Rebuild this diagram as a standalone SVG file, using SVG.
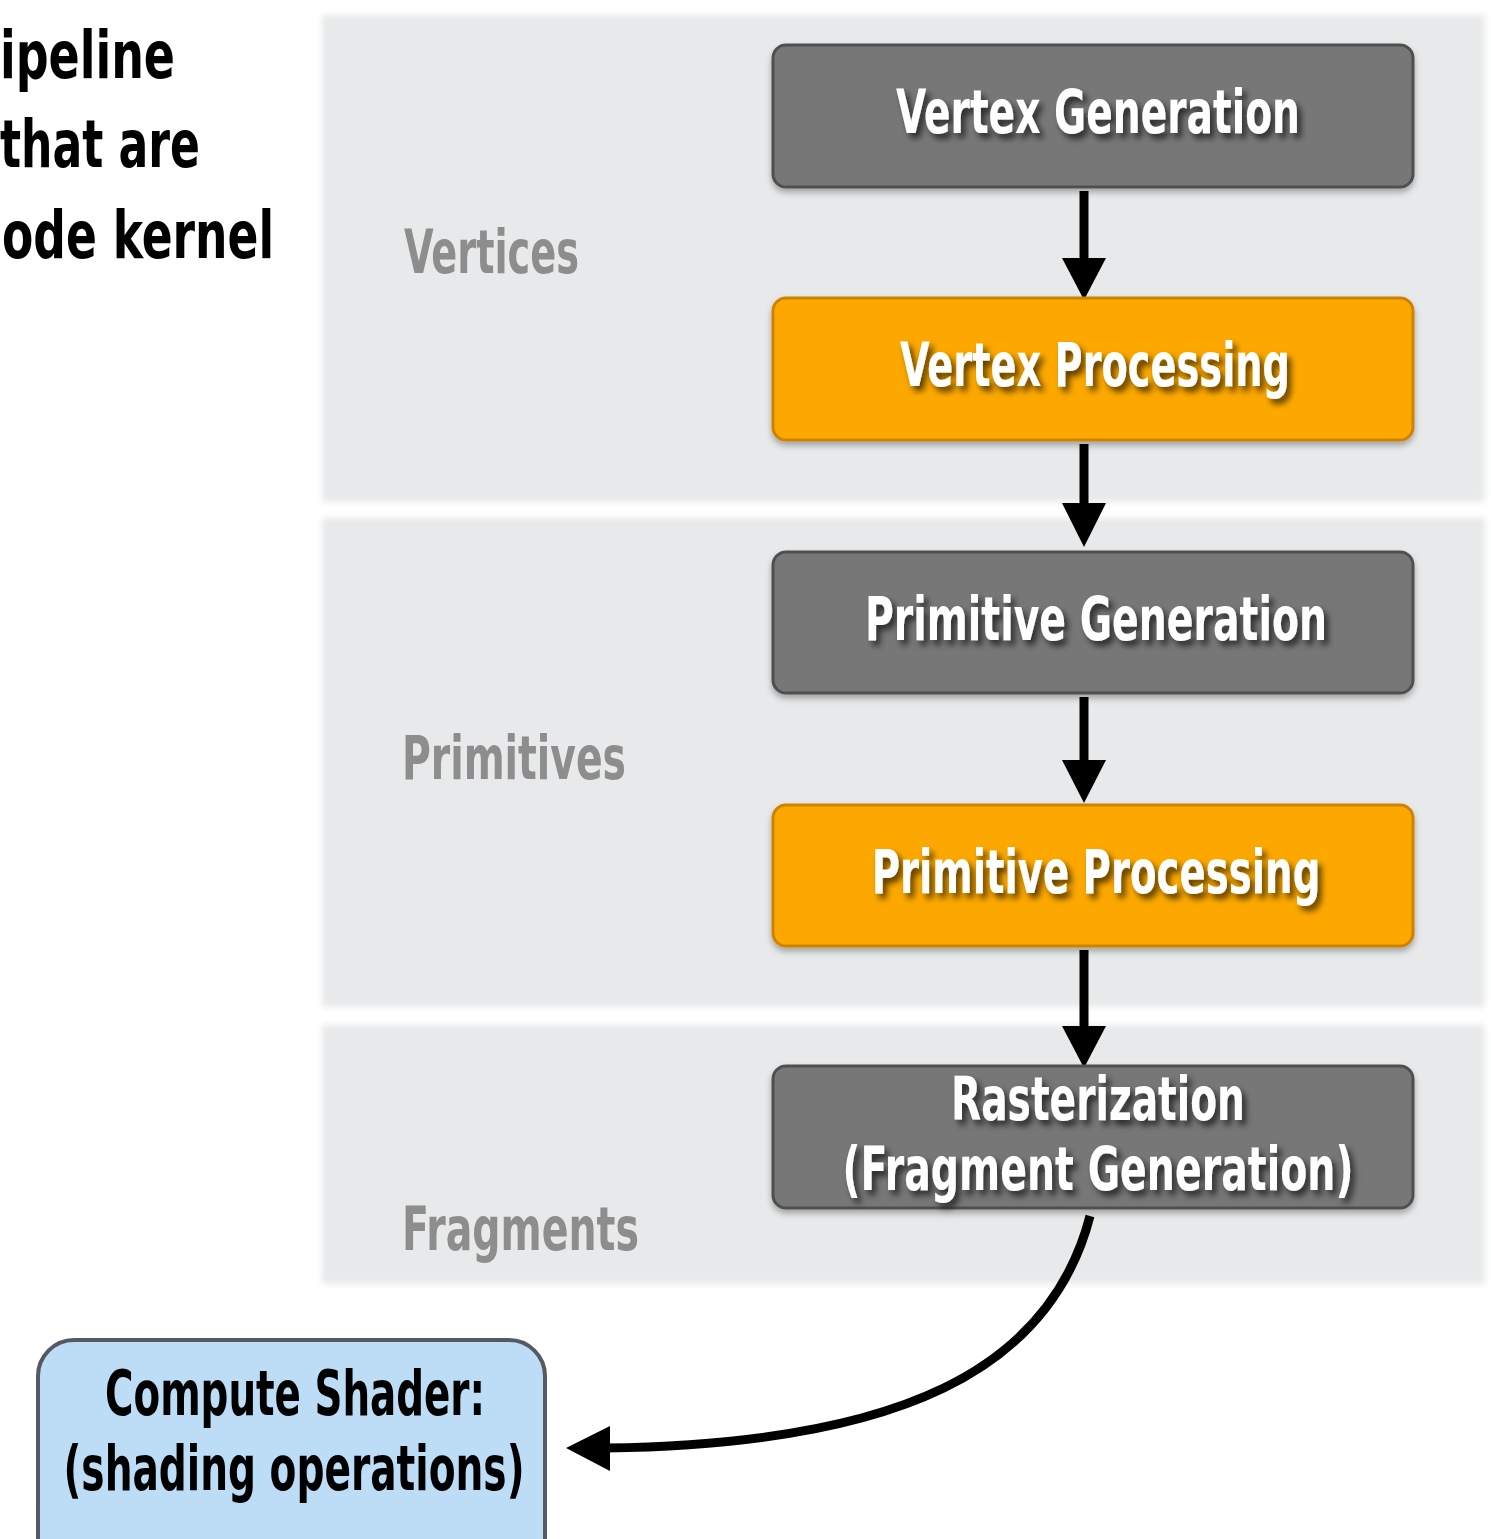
<svg xmlns="http://www.w3.org/2000/svg" width="1491" height="1539" viewBox="0 0 1491 1539">
  <defs>
    <filter id="soft" x="-5%" y="-5%" width="110%" height="110%">
      <feGaussianBlur stdDeviation="3"/>
    </filter>
    <filter id="txtShadow" x="-25%" y="-40%" width="150%" height="200%">
      <feGaussianBlur in="SourceAlpha" stdDeviation="3"/>
      <feOffset dx="4" dy="5" result="b"/>
      <feFlood flood-color="#000" flood-opacity="0.65"/>
      <feComposite in2="b" operator="in"/>
      <feMerge><feMergeNode/><feMergeNode in="SourceGraphic"/></feMerge>
    </filter>
    <filter id="boxShadow" x="-5%" y="-10%" width="110%" height="130%">
      <feGaussianBlur in="SourceAlpha" stdDeviation="3"/>
      <feOffset dx="0" dy="4" result="b"/>
      <feFlood flood-color="#000" flood-opacity="0.3"/>
      <feComposite in2="b" operator="in"/>
      <feMerge><feMergeNode/><feMergeNode in="SourceGraphic"/></feMerge>
    </filter>
  </defs>
  <style>
    text { font-family: "DejaVu Sans Condensed", "Liberation Sans", sans-serif; font-weight: bold; }
    .panel { fill: #e8e9ea; }
    .plabel { fill: #8d8d8d; font-size: 60px; }
    .heading { fill: #000; font-size: 66px; }
    .gray { fill: #777777; stroke: #505050; stroke-width: 3; }
    .orange { fill: #fca800; stroke: #cf8200; stroke-width: 3; }
    .ntext { fill: #fff; font-size: 61px; text-anchor: middle; }
    .ctext { fill: #000; font-size: 62px; text-anchor: middle; }
    .shaft { stroke: #000; stroke-width: 9; fill: none; }
    .head { fill: #000; }
  </style>

  <rect width="1491" height="1539" fill="#fff"/>

  <!-- stage bands -->
  <g id="bands" filter="url(#soft)">
    <rect class="panel" x="322" y="15" width="1163" height="487"/>
    <rect class="panel" x="322" y="518" width="1163" height="489"/>
    <rect class="panel" x="322" y="1025" width="1163" height="259"/>
  </g>

  <!-- heading fragment at left -->
  <g id="heading">
    <text class="heading" x="0" y="78" textLength="175" lengthAdjust="spacingAndGlyphs">ipeline</text>
    <text class="heading" x="0" y="167" textLength="200" lengthAdjust="spacingAndGlyphs">that are</text>
    <text class="heading" x="2" y="258" textLength="272" lengthAdjust="spacingAndGlyphs">ode kernel</text>
  </g>

  <!-- band labels -->
  <g id="labels">
    <text class="plabel" x="404" y="273" textLength="175" lengthAdjust="spacingAndGlyphs">Vertices</text>
    <text class="plabel" x="402" y="779" textLength="224" lengthAdjust="spacingAndGlyphs">Primitives</text>
    <text class="plabel" x="402" y="1250" textLength="237" lengthAdjust="spacingAndGlyphs">Fragments</text>
  </g>

  <!-- connectors -->
  <g id="connectors">
    <line class="shaft" x1="1084" y1="191" x2="1084" y2="260"/>
    <polygon class="head" points="1062,258 1106,258 1084,300"/>
    <line class="shaft" x1="1084" y1="444" x2="1084" y2="505"/>
    <polygon class="head" points="1062,503 1106,503 1084,547"/>
    <line class="shaft" x1="1084" y1="697" x2="1084" y2="762"/>
    <polygon class="head" points="1062,760 1106,760 1084,803"/>
    <line class="shaft" x1="1084" y1="950" x2="1084" y2="1028"/>
    <polygon class="head" points="1062,1026 1106,1026 1084,1068"/>
    <path class="shaft" stroke-width="8" d="M1090,1216 C1050,1370 900,1444 606,1448"/>
    <polygon class="head" points="566,1448 610,1426 610,1471"/>
  </g>

  <!-- node labels use a horizontal squeeze (scale 0.7) for a condensed face -->
  <g id="vertex-generation" filter="url(#boxShadow)">
    <rect class="gray" x="773" y="45" width="640" height="142" rx="13"/>
    <g filter="url(#txtShadow)">
      <text class="ntext" transform="translate(1098,133) scale(0.7,1)" textLength="577" lengthAdjust="spacingAndGlyphs">Vertex Generation</text>
    </g>
  </g>

  <g id="vertex-processing" filter="url(#boxShadow)">
    <rect class="orange" x="773" y="298" width="640" height="142" rx="13"/>
    <g filter="url(#txtShadow)">
      <text class="ntext" transform="translate(1095,386) scale(0.7,1)" textLength="557" lengthAdjust="spacingAndGlyphs">Vertex Processing</text>
    </g>
  </g>

  <g id="primitive-generation" filter="url(#boxShadow)">
    <rect class="gray" x="773" y="552" width="640" height="141" rx="13"/>
    <g filter="url(#txtShadow)">
      <text class="ntext" transform="translate(1096,640) scale(0.7,1)" textLength="660" lengthAdjust="spacingAndGlyphs">Primitive Generation</text>
    </g>
  </g>

  <g id="primitive-processing" filter="url(#boxShadow)">
    <rect class="orange" x="773" y="805" width="640" height="141" rx="13"/>
    <g filter="url(#txtShadow)">
      <text class="ntext" transform="translate(1096,893) scale(0.7,1)" textLength="641" lengthAdjust="spacingAndGlyphs">Primitive Processing</text>
    </g>
  </g>

  <g id="rasterization" filter="url(#boxShadow)">
    <rect class="gray" x="773" y="1066" width="640" height="142" rx="13"/>
    <g filter="url(#txtShadow)">
      <text class="ntext" transform="translate(1098,1120) scale(0.7,1)" textLength="420" lengthAdjust="spacingAndGlyphs">Rasterization</text>
      <text class="ntext" transform="translate(1098,1190) scale(0.7,1)" textLength="730" lengthAdjust="spacingAndGlyphs">(Fragment Generation)</text>
    </g>
  </g>

  <g id="compute-shader">
    <rect x="38" y="1340" width="507" height="240" rx="36" fill="#bddcf6" stroke="#555a62" stroke-width="4"/>
    <text class="ctext" x="295" y="1415" textLength="380" lengthAdjust="spacingAndGlyphs">Compute Shader:</text>
    <text class="ctext" x="294" y="1490" textLength="461" lengthAdjust="spacingAndGlyphs">(shading operations)</text>
  </g>
</svg>
